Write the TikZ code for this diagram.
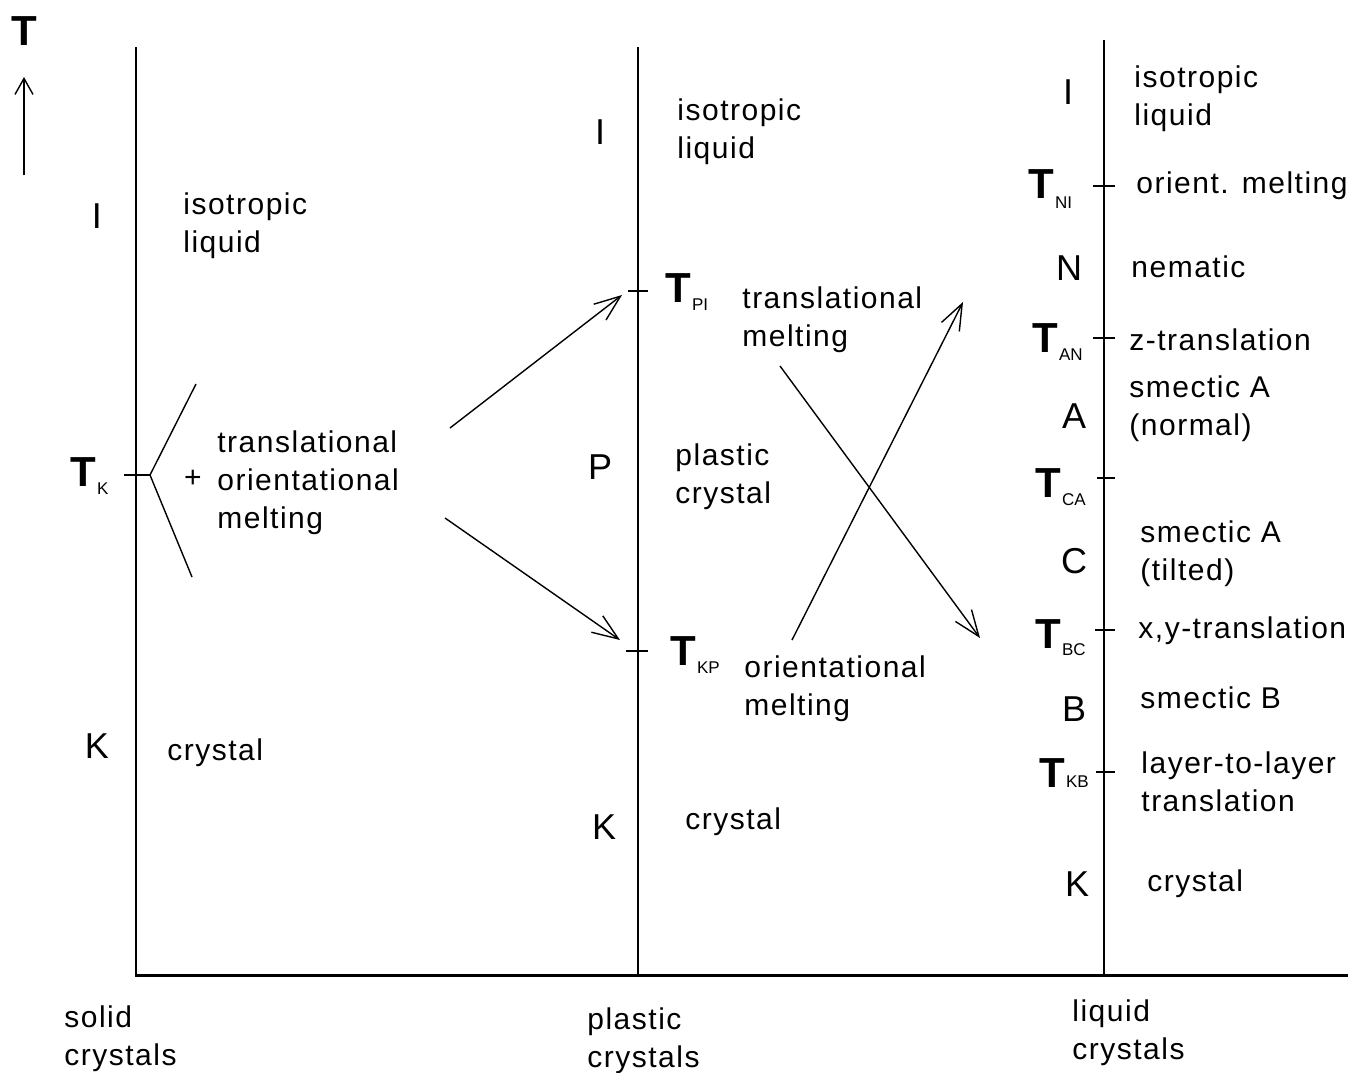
\documentclass[tikz,border=0pt]{standalone}
\usepackage{fontspec}
\setmainfont{Liberation Sans}
\usetikzlibrary{arrows.meta}
\newcommand\Tl[2][4pt]{T\kern0.5pt\raisebox{-#1}{\fontsize{8.5}{9}\selectfont\mdseries #2}}
\begin{document}
\begin{tikzpicture}[x=0.5pt,y=-0.5pt,
  txt/.style={anchor=base west,align=left,inner sep=0pt,font=\fontsize{15}{19}\selectfont\addfontfeature{LetterSpace=5}},
  reg/.style={anchor=base,inner sep=0pt,font=\fontsize{18}{20}\selectfont},
  tlab/.style={anchor=base west,inner sep=0pt,font=\fontsize{21}{24}\selectfont\bfseries},
  axis/.style={line width=1pt},
  base axis/.style={line width=1.5pt},
  tick/.style={line width=0.8pt},
  branch/.style={line width=0.7pt},
  arr/.style={line width=0.7pt,-{Straight Barb[length=13pt,width=10pt,line width=0.7pt]}}
]
\useasboundingbox (0,0) rectangle (1348,1072);

% axes
\coordinate (base0) at (135,975);
\coordinate (base1) at (1348,975);
\draw[base axis] (base0) -- (base1);
\coordinate (s0) at (136,47);   \coordinate (s1) at (136,975);
\coordinate (p0) at (638,47);   \coordinate (p1) at (638,975);
\coordinate (l0) at (1104,40);  \coordinate (l1) at (1104,975);
\draw[axis] (s0) -- (s1);
\draw[axis] (p0) -- (p1);
\draw[axis] (l0) -- (l1);

% temperature arrow
\node[anchor=base,inner sep=0pt,font=\fontsize{21}{24}\selectfont\bfseries] (Tax) at (24,45) {T};
\coordinate (ta0) at (24,175);
\coordinate (ta1) at (24,77);
\draw[line width=0.7pt,-{Straight Barb[length=8pt,width=9pt,line width=0.7pt]}] (ta0) -- (ta1);

% ---------- solid crystals ----------
\node[reg] (sI) at (97,228) {I};
\node[txt] (siso) at (183,252) {isotropic\\liquid};
\node[tlab] (TK) at (70,486) {\Tl{K}};
\coordinate (tk0) at (124,475); \coordinate (tk1) at (150,475);
\draw[tick] (tk0) -- (tk1);
\coordinate (br1) at (196,384); \coordinate (br2) at (192,577);
\draw[branch] (br1) -- (tk1) -- (br2);
\node[anchor=base,inner sep=0pt,font=\fontsize{15}{19}\selectfont] (plus) at (193,487) {+};
\node[txt] (stom) at (217,528) {translational\\orientational\\melting};
\node[reg] (sK) at (97,758) {K};
\node[txt] (scry) at (167,760) {crystal};
\node[txt] (slab) at (64,1065) {solid\\crystals};

% ---------- plastic crystals ----------
\node[reg] (pI) at (600,144) {I};
\node[txt] (piso) at (677,158) {isotropic\\liquid};
\coordinate (tpi0) at (628,291); \coordinate (tpi1) at (648,291);
\draw[tick] (tpi0) -- (tpi1);
\node[tlab] (TPI) at (665,302) {\Tl{PI}};
\node[txt] (ptm) at (742,346) {translational\\melting};
\node[reg] (pP) at (600,479) {P};
\node[txt] (ppc) at (675,503) {plastic\\crystal};
\coordinate (tkp0) at (626,651); \coordinate (tkp1) at (648,651);
\draw[tick] (tkp0) -- (tkp1);
\node[tlab] (TKP) at (670,665) {\Tl{KP}};
\node[txt] (pom) at (744,715) {orientational\\melting};
\node[reg] (pK) at (604,839) {K};
\node[txt] (pcry) at (685,829) {crystal};
\node[txt] (plab) at (587,1067) {plastic\\crystals};

% ---------- liquid crystals ----------
\node[reg] (lI) at (1068,104) {I};
\node[txt] (liso) at (1134,125) {isotropic\\liquid};
\coordinate (tni0) at (1093,186); \coordinate (tni1) at (1115,186);
\draw[tick] (tni0) -- (tni1);
\node[tlab] (TNI) at (1028,198) {\Tl[5pt]{NI}};
\node[txt] (lom) at (1136,193) {orient. melting};
\node[reg] (lN) at (1069,280) {N};
\node[txt] (lnem) at (1131,277) {nematic};
\coordinate (tan0) at (1093,338); \coordinate (tan1) at (1115,338);
\draw[tick] (tan0) -- (tan1);
\node[tlab] (TAN) at (1032,352) {\Tl[4pt]{AN}};
\node[txt] (lzt) at (1129,350) {z-translation};
\node[txt] (lsa) at (1129,435) {smectic A\\(normal)};
\node[reg] (lA) at (1074,428) {A};
\coordinate (tca0) at (1097,478); \coordinate (tca1) at (1115,478);
\draw[tick] (tca0) -- (tca1);
\node[tlab] (TCA) at (1035,497) {\Tl[4pt]{CA}};
\node[reg] (lC) at (1074,573) {C};
\node[txt] (lsc) at (1140,580) {smectic A\\(tilted)};
\coordinate (tbc0) at (1095,630); \coordinate (tbc1) at (1115,630);
\draw[tick] (tbc0) -- (tbc1);
\node[tlab] (TBC) at (1035,648) {\Tl[3.5pt]{BC}};
\node[txt] (lxy) at (1138,638) {x,y-translation};
\node[reg] (lB) at (1074,721) {B};
\node[txt] (lsb) at (1140,708) {smectic B};
\coordinate (tkb0) at (1096,772); \coordinate (tkb1) at (1115,772);
\draw[tick] (tkb0) -- (tkb1);
\node[tlab] (TKB) at (1039,787) {\Tl[0pt]{KB}};
\node[txt] (lll) at (1141,811) {layer-to-layer\\translation};
\node[reg] (lK) at (1077,896) {K};
\node[txt] (lcry) at (1147,891) {crystal};
\node[txt] (llab) at (1072,1059) {liquid\\crystals};

% ---------- arrows ----------
\coordinate (a1s) at (450,428); \coordinate (a1e) at (622,295);
\coordinate (a2s) at (445,518); \coordinate (a2e) at (620,640);
\coordinate (a3s) at (780,366); \coordinate (a3e) at (980,638);
\coordinate (a4s) at (792,640); \coordinate (a4e) at (963,302);
\draw[arr] (a1s) -- (a1e);
\draw[arr] (a2s) -- (a2e);
\draw[arr] (a3s) -- (a3e);
\draw[arr] (a4s) -- (a4e);
\end{tikzpicture}
\end{document}
